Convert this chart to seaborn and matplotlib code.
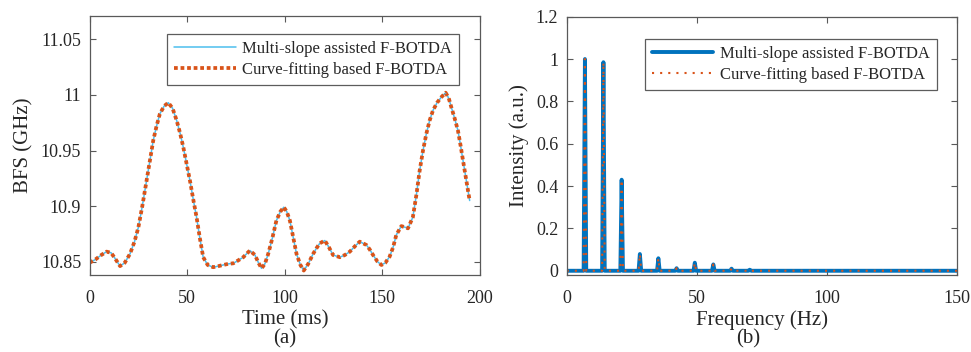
import numpy as np
import pandas as pd
import matplotlib
matplotlib.use("Agg")
import matplotlib.pyplot as plt
import seaborn as sns

# ---- Data ----
time_ms = [0, 3, 6, 8.7, 11, 13, 15.6, 18, 20.7, 23, 25, 27, 29.2, 31, 32.6, 34.3, 36, 38.2,
           40.3, 42.5, 44.6, 46.3, 48, 49.7, 51.4, 53.1, 54.8, 56.5, 58.2, 60.5, 63.3, 66,
           68.4, 71, 73.6, 76, 78.7, 82.1, 84.7, 86.5, 88.1, 89.8, 91.5, 93.6, 95.7, 97.7,
           99.5, 101, 102.6, 104.3, 106, 108, 109.7, 112, 114.5, 116.2, 117.9, 120.5, 122.6,
           124.7, 128.2, 130.8, 133.3, 136, 138.4, 141.8, 143.5, 145.2, 147.5, 149.5, 151.5,
           153.7, 155.5, 157.1, 159.7, 161.5, 163.1, 165.6, 167.4, 169.1, 170.8, 172.5, 174.2,
           175.9, 178, 180.2, 182.4, 184, 185.3, 187, 188.7, 190, 191.3, 193, 194.7]
bfs_ghz = [10.849, 10.852, 10.856, 10.859, 10.858, 10.853, 10.846, 10.849, 10.857, 10.868,
           10.881, 10.900, 10.923, 10.942, 10.959, 10.972, 10.983, 10.990,
           10.993, 10.988, 10.977, 10.966, 10.953, 10.938, 10.923, 10.906, 10.890, 10.871,
           10.854, 10.847, 10.845, 10.846, 10.847, 10.848, 10.8485, 10.851, 10.854, 10.860,
           10.856, 10.849, 10.844, 10.848, 10.857, 10.871, 10.887, 10.895,
           10.899, 10.895, 10.887, 10.872, 10.857, 10.847, 10.842, 10.848, 10.857, 10.862,
           10.8665, 10.869, 10.863, 10.856, 10.854, 10.856, 10.859, 10.864, 10.868, 10.865,
           10.861, 10.856, 10.850, 10.847, 10.849, 10.8545, 10.863, 10.874, 10.882, 10.881,
           10.880, 10.890, 10.910, 10.932, 10.950, 10.965, 10.977, 10.986, 10.993, 10.998,
           11.002, 10.997, 10.989, 10.979, 10.968, 10.955, 10.941, 10.923, 10.905]

peak_freq_hz = [7.0, 14.1, 21.1, 28.1, 35.2, 42.2, 49.2, 56.3, 63.3, 70.3]
peak_intensity = [1.0, 0.985, 0.43, 0.079, 0.059, 0.012, 0.038, 0.030, 0.010, 0.005]
freq_range_hz = [0, 150]

left_ticks_x = [0, 50, 100, 150, 200]
left_ticks_y = [10.85, 10.9, 10.95, 11.0, 11.05]
left_ticklabels_y = ["10.85", "10.9", "10.95", "11", "11.05"]
right_ticks_x = [0, 50, 100, 150]
right_ticks_y = [0, 0.2, 0.4, 0.6, 0.8, 1.0, 1.2]
right_ticklabels_y = ["0", "0.2", "0.4", "0.6", "0.8", "1", "1.2"]

label_a = "Multi-slope assisted F-BOTDA"
label_b = "Curve-fitting based F-BOTDA"

# spectrum line vertices built from the peak list
spec_f = [freq_range_hz[0]]
spec_i = [0.0]
for f, h in zip(peak_freq_hz, peak_intensity):
    spec_f += [f - 0.5, f, f + 0.5]
    spec_i += [0.0, h, 0.0]
spec_f.append(freq_range_hz[1])
spec_i.append(0.0)

df_t = pd.DataFrame({"t": time_ms, "bfs": bfs_ghz})
df_s = pd.DataFrame({"f": spec_f, "i": spec_i})

# ---- Style ----
sns.set_style("ticks")
plt.rcParams["font.family"] = ["Liberation Serif", "DejaVu Serif"]
txt = "#262626"
plt.rcParams["text.color"] = txt
plt.rcParams["axes.labelcolor"] = txt
plt.rcParams["xtick.color"] = txt
plt.rcParams["ytick.color"] = txt

fig = plt.figure(figsize=(9.71, 3.52), dpi=100)
W, H = 971, 352

def px_axes(x0, y0, x1, y1):
    return fig.add_axes([x0 / W, 1 - y1 / H, (x1 - x0) / W, (y1 - y0) / H])

ax1 = px_axes(89.6, 16, 480, 275)
ax2 = px_axes(566.7, 16.7, 957.3, 275)

light_blue = (0.30, 0.745, 0.933)
matlab_blue = (0.0, 0.447, 0.741)
matlab_orange = (0.851, 0.325, 0.098)

# Left panel
sns.lineplot(data=df_t, x="t", y="bfs", ax=ax1, color=light_blue, linewidth=1.1,
             label=label_a, sort=False)
sns.lineplot(data=df_t, x="t", y="bfs", ax=ax1, color=matlab_orange, linewidth=2.7,
             linestyle=(0, (1, 0.75)), dash_capstyle="butt", label=label_b, sort=False)
ax1.set_xlim(0, 200)
ax1.set_ylim(10.838, 11.071)
ax1.set_xticks(left_ticks_x)
ax1.set_yticks(left_ticks_y)
ax1.set_yticklabels(left_ticklabels_y)
ax1.set_xlabel("Time (ms)", fontsize=15, labelpad=2)
ax1.set_ylabel("BFS (GHz)", fontsize=15, labelpad=5)

# Right panel
sns.lineplot(data=df_s, x="f", y="i", ax=ax2, color=matlab_blue, linewidth=2.8,
             label=label_a, sort=False)
sns.lineplot(data=df_s, x="f", y="i", ax=ax2, color=matlab_orange, linewidth=1.5,
             linestyle=(0, (1, 2.9)), label=label_b, sort=False)
ax2.set_xlim(0, 150)
ax2.set_ylim(-0.02, 1.2)
ax2.set_xticks(right_ticks_x)
ax2.set_yticks(right_ticks_y)
ax2.set_yticklabels(right_ticklabels_y)
ax2.set_xlabel("Frequency (Hz)", fontsize=15, labelpad=2)
ax2.set_ylabel("Intensity (a.u.)", fontsize=15, labelpad=5)

for ax in (ax1, ax2):
    ax.tick_params(direction="in", length=4, width=0.8, labelsize=13, top=True, right=True,
                   color="0.35")
    ax.tick_params(axis="x", pad=11)
    ax.tick_params(axis="y", pad=6)
    for s in ax.spines.values():
        s.set_visible(True)
        s.set_color("0.35")
        s.set_linewidth(0.9)

leg1 = ax1.legend(loc="upper right", bbox_to_anchor=(1 - (480 - 459) / 390.4, 1 - (34.3 - 16) / 259),
                  fontsize=12, frameon=True, fancybox=False, edgecolor="0.2",
                  handlelength=3.7, handletextpad=0.4, borderpad=0.4, labelspacing=0.3,
                  borderaxespad=0)
leg1.get_frame().set_linewidth(0.9)
leg2 = ax2.legend(loc="upper right", bbox_to_anchor=(1 - (957.3 - 936.7) / 390.6, 1 - (39.3 - 16.7) / 258.3),
                  fontsize=12, frameon=True, fancybox=False, edgecolor="0.2",
                  handlelength=3.7, handletextpad=0.4, borderpad=0.4, labelspacing=0.3,
                  borderaxespad=0)
leg2.get_frame().set_linewidth(0.9)

fig.text(285 / W, 1 - 339 / H, "(a)", ha="center", va="center", fontsize=15)
fig.text(748 / W, 1 - 339 / H, "(b)", ha="center", va="center", fontsize=15)

fig.savefig("out.png", dpi=100)
